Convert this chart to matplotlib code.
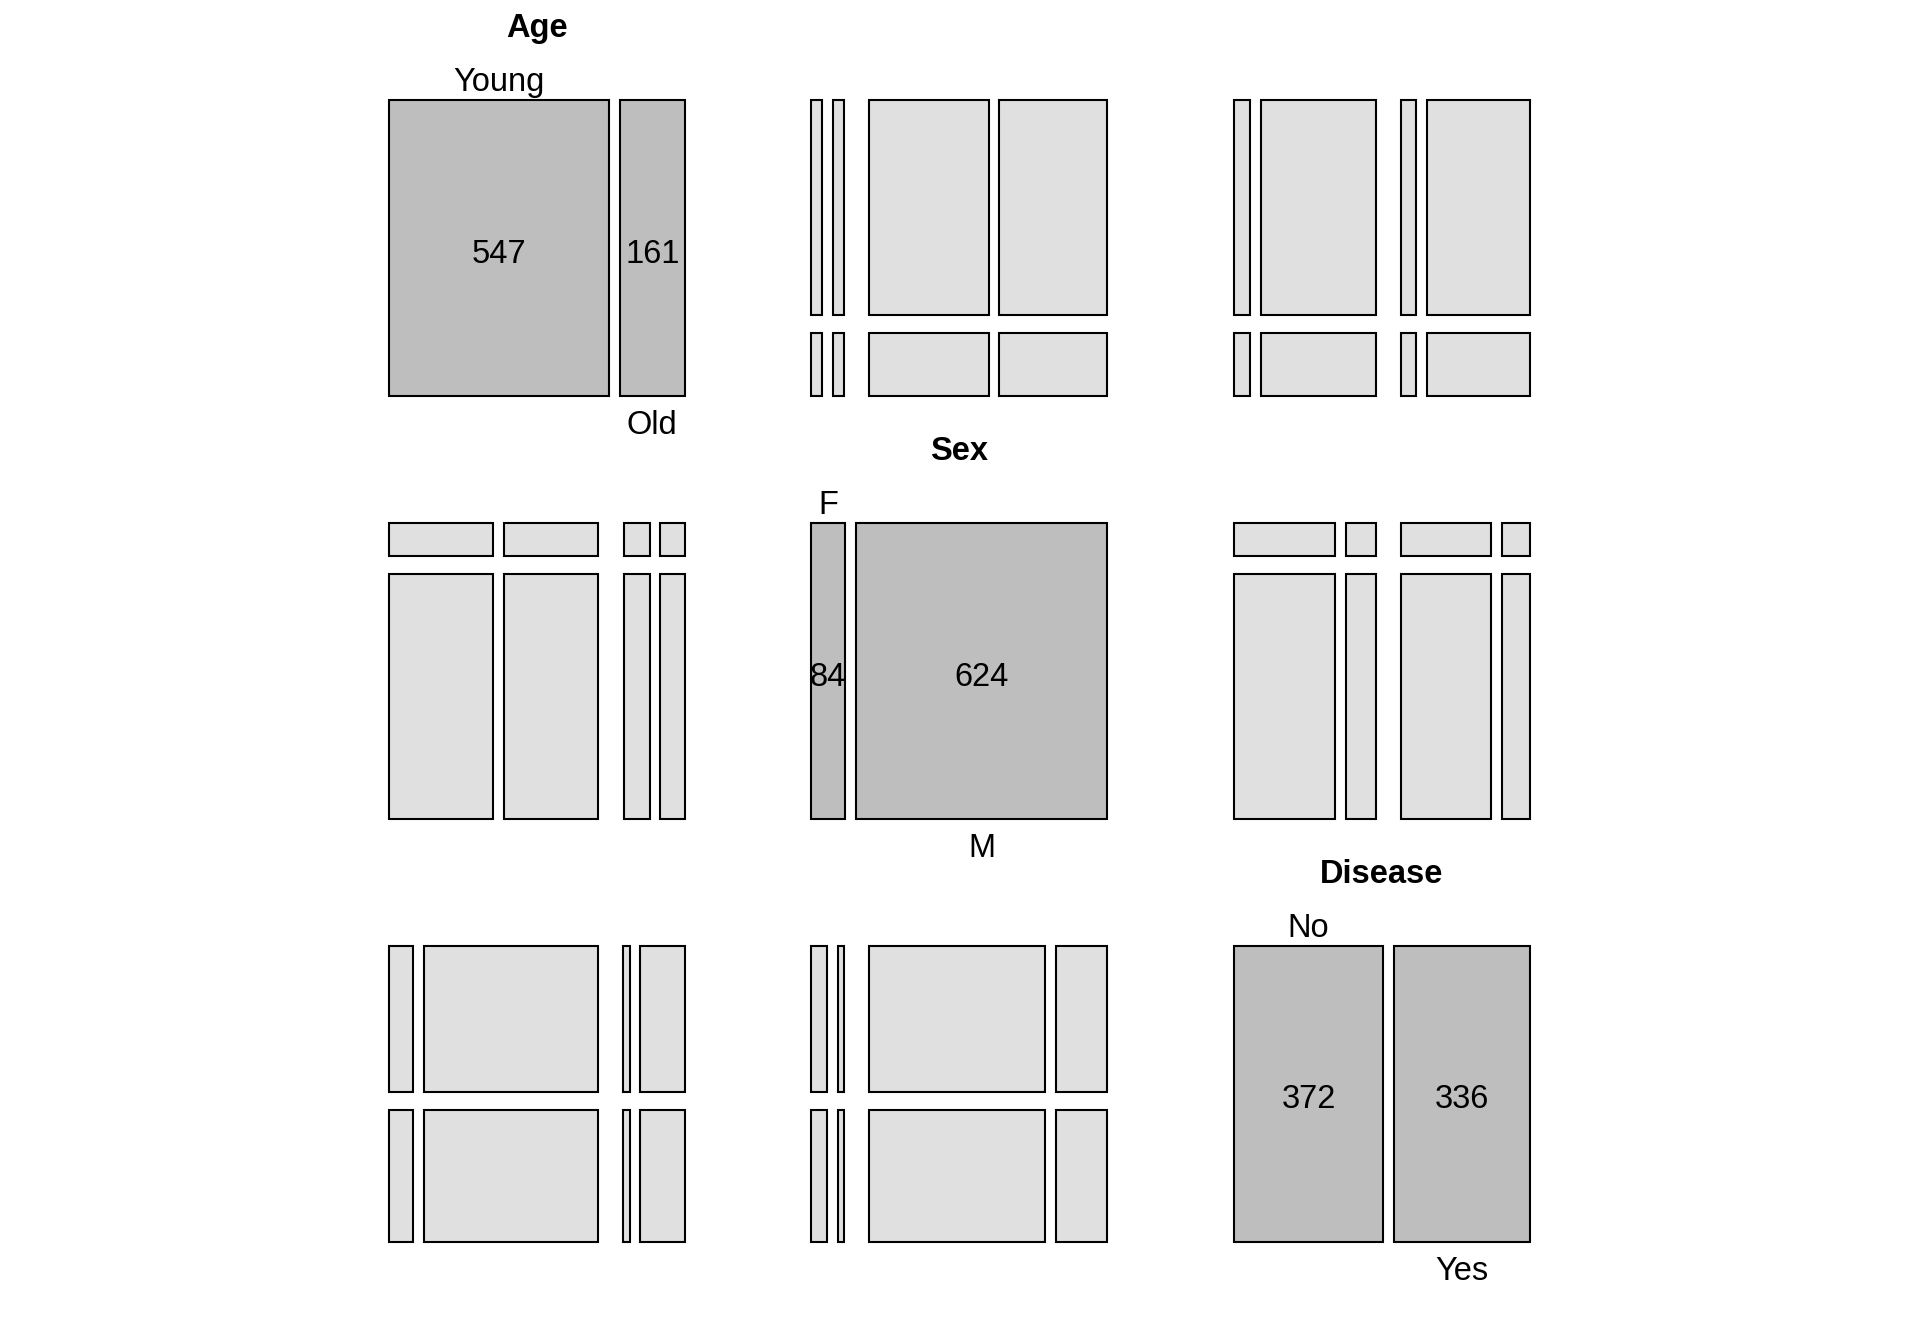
import matplotlib
matplotlib.use("Agg")
import matplotlib.pyplot as plt
from matplotlib.patches import Rectangle

plt.rcParams["font.family"] = ["Liberation Sans", "DejaVu Sans"]

# variables and their margins (diagonal panels)
VARS = ["Age", "Sex", "Disease"]
age_levels = ["Young", "Old"]
sex_levels = ["F", "M"]
disease_levels = ["No", "Yes"]
age_counts = [547, 161]
sex_counts = [84, 624]
disease_counts = [372, 336]

# off-diagonal tiles (scaled to n = 708)
# row variable splits top/bottom, columns = column variable x third variable
age_sex_cols = [31, 31, 340, 306]        # Sex(F,M) x Disease(No,Yes)
age_disease_cols = [46, 327, 42, 293]    # Disease(No,Yes) x Sex(F,M)
sex_age_cols = [297, 268, 74, 69]        # Age(Young,Old) x Disease(No,Yes)
sex_disease_cols = [287, 87, 256, 78]    # Disease(No,Yes) x Age(Young,Old)
disease_age_cols = [70, 494, 18, 126]    # Age(Young,Old) x Sex(F,M)
disease_sex_cols = [45, 17, 500, 146]    # Sex(F,M) x Age(Young,Old)

levels = {"Age": age_levels, "Sex": sex_levels, "Disease": disease_levels}
margins = {"Age": age_counts, "Sex": sex_counts, "Disease": disease_counts}
tiles = {
    (0, 1): age_sex_cols, (0, 2): age_disease_cols,
    (1, 0): sex_age_cols, (1, 2): sex_disease_cols,
    (2, 0): disease_age_cols, (2, 1): disease_sex_cols,
}

# layout in pixels
LEFT, TOP = 388.7, 100.3
STEP_X, STEP_Y = 422.5, 422.8
SIZE = 296.0
GAP_DIAG = 11.0
GAP_IN, GAP_OUT, GAP_ROW = 10.8, 25.2, 17.8
FS = 23.5
DIAG_FILL = "#BEBEBE"
OFF_FILL = "#E0E0E0"


def box(ax, x, y, w, h, fc):
    ax.add_patch(Rectangle((x, y), w, h, facecolor=fc, edgecolor="black",
                           linewidth=1.5))


def split(start, length, sizes, gaps):
    avail = length - sum(gaps)
    tot = float(sum(sizes))
    pos = []
    cur = start
    for k, s in enumerate(sizes):
        w = s / tot * avail
        pos.append((cur, w))
        cur += w
        if k < len(gaps):
            cur += gaps[k]
    return pos


fig = plt.figure(figsize=(19.2, 13.44), dpi=100)
ax = fig.add_axes([0, 0, 1, 1])
ax.set_xlim(0, 1920)
ax.set_ylim(1344, 0)
ax.axis("off")

for i, rv in enumerate(VARS):
    for j, cv in enumerate(VARS):
        x0 = LEFT + j * STEP_X
        y0 = TOP + i * STEP_Y
        if i == j:
            cells = split(x0, SIZE, margins[rv], [GAP_DIAG])
            for (cx, cw), lab, n in zip(cells, levels[rv], margins[rv]):
                box(ax, cx, y0, cw, SIZE, DIAG_FILL)
                ax.text(cx + cw / 2, y0 + SIZE / 2 + 14.5, str(n),
                        ha="center", va="baseline", fontsize=FS)
            (ax1, w1), (ax2, w2) = cells
            ax.text(ax1 + w1 / 2, y0 - 9, levels[rv][0], ha="center",
                    va="baseline", fontsize=FS)
            ax.text(ax2 + w2 / 2, y0 + SIZE + 14, levels[rv][1], ha="center",
                    va="top", fontsize=FS)
            ax.text(x0 + SIZE / 2, y0 - 63, rv, ha="center", va="baseline",
                    fontsize=FS, fontweight="bold")
        else:
            rows = split(y0, SIZE, margins[rv], [GAP_ROW])
            cols = split(x0, SIZE, tiles[(i, j)], [GAP_IN, GAP_OUT, GAP_IN])
            for ry, rh in rows:
                for cx, cw in cols:
                    box(ax, cx, ry, cw, rh, OFF_FILL)

fig.savefig("out.png", dpi=100, facecolor="white")
